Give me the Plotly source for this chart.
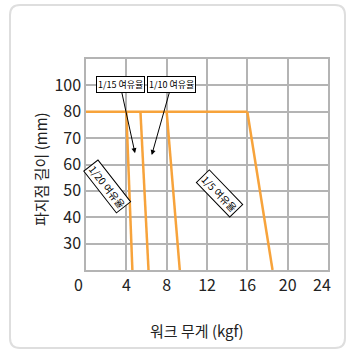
import plotly.graph_objects as go

# Data
plateau_y = 80
bottom_y = 20
plateau_end_x = 16
lines_top_x = [4.0, 5.4, 8.0, 16.0]
lines_bottom_x = [4.6, 6.2, 9.3, 18.5]
ytick_vals = [30, 40, 50, 60, 70, 80, 90]
ytick_text = ["30", "40", "50", "60", "70", "80", "100"]
xtick_vals = [4, 8, 12, 16, 20]
xtick_text = ["4", "8", "12", "16", "20"]

ORANGE = "#F7A33B"
GRID = "#b4b4b4"
FONT = "Noto Sans CJK KR, sans-serif"

fig = go.Figure()
fig.add_trace(go.Scatter(x=[0, plateau_end_x], y=[plateau_y, plateau_y], mode="lines",
                         line=dict(color=ORANGE, width=2.5), showlegend=False, hoverinfo="skip"))
for xt, xb in zip(lines_top_x, lines_bottom_x):
    fig.add_trace(go.Scatter(x=[xt, xb], y=[plateau_y, bottom_y], mode="lines",
                             line=dict(color=ORANGE, width=2.5), showlegend=False, hoverinfo="skip"))

ML, MR, MT, MB = 86, 20, 59, 88
W, H = 348, 358
pw, ph = W - ML - MR, H - MT - MB

def px2paper(px, py):
    return (px - ML) / pw, (H - MB - py) / ph

# rounded outer frame
x0, y0 = px2paper(10, 348)
x1, y1 = px2paper(345, 5)
rx, ry = 10 / pw, 10 / ph
path = (f"M {x0+rx},{y1} L {x1-rx},{y1} Q {x1},{y1} {x1},{y1-ry} "
        f"L {x1},{y0+ry} Q {x1},{y0} {x1-rx},{y0} L {x0+rx},{y0} "
        f"Q {x0},{y0} {x0},{y0+ry} L {x0},{y1-ry} Q {x0},{y1} {x0+rx},{y1} Z")
fig.add_shape(type="path", path=path, xref="paper", yref="paper",
              line=dict(color="#dedede", width=2), layer="below")

box = dict(bordercolor="black", borderwidth=1, borderpad=1, bgcolor="white",
           font=dict(family=FONT, size=9, color="black"))
fig.add_annotation(x=4.86, y=64.3, text="1/15 여유율", showarrow=True, ax=-15, ay=-69,
                   arrowhead=2, arrowsize=1, arrowwidth=1, arrowcolor="black", **box)
fig.add_annotation(x=6.52, y=63.6, text="1/10 여유율", showarrow=True, ax=20, ay=-71,
                   arrowhead=2, arrowsize=1, arrowwidth=1, arrowcolor="black", **box)
box10 = dict(box, font=dict(family=FONT, size=10, color="black"))
fig.add_annotation(x=2.1, y=51.6, text="1/20 여유율", showarrow=False, textangle=52, **box10)
fig.add_annotation(x=13.25, y=49.0, text="1/5 여유율", showarrow=False, textangle=46, **box10)

def paper_text(px, py, text, size, angle=0):
    x, y = px2paper(px, py)
    fig.add_annotation(x=x, y=y, xref="paper", yref="paper", text=text, showarrow=False,
                       xanchor="center", yanchor="middle", textangle=angle,
                       font=dict(family=FONT, size=size, color="#222"))

# origin "0" and "24" labels
paper_text(78, 284, "0", 16)
paper_text(322, 284, "24", 16)
# axis titles
paper_text(197, 330, "워크 무게 (kgf)", 15)
paper_text(40, 169, "파지점 길이 (mm)", 15, -90)

fig.update_xaxes(range=[0, 24], tickvals=xtick_vals, ticktext=xtick_text, showgrid=True,
                 gridcolor=GRID, gridwidth=1.5, showline=True, linecolor=GRID, linewidth=1.5,
                 mirror=True, zeroline=False, ticks="", tickfont=dict(family=FONT, size=16, color="#222"),
                 fixedrange=True)
fig.update_yaxes(range=[20, 100], tickvals=ytick_vals, ticktext=ytick_text, showgrid=True,
                 gridcolor=GRID, gridwidth=1.5, showline=True, linecolor=GRID, linewidth=1.5,
                 mirror=True, zeroline=False, ticks="", tickfont=dict(family=FONT, size=16, color="#222"),
                 fixedrange=True)

fig.update_layout(width=W, height=H, margin=dict(l=ML, r=MR, t=MT, b=MB),
                  paper_bgcolor="white", plot_bgcolor="white", showlegend=False)

fig.write_html("out.html", config={"displayModeBar": False},
               post_script="document.body.style.margin='0';document.body.style.overflow='hidden';")
